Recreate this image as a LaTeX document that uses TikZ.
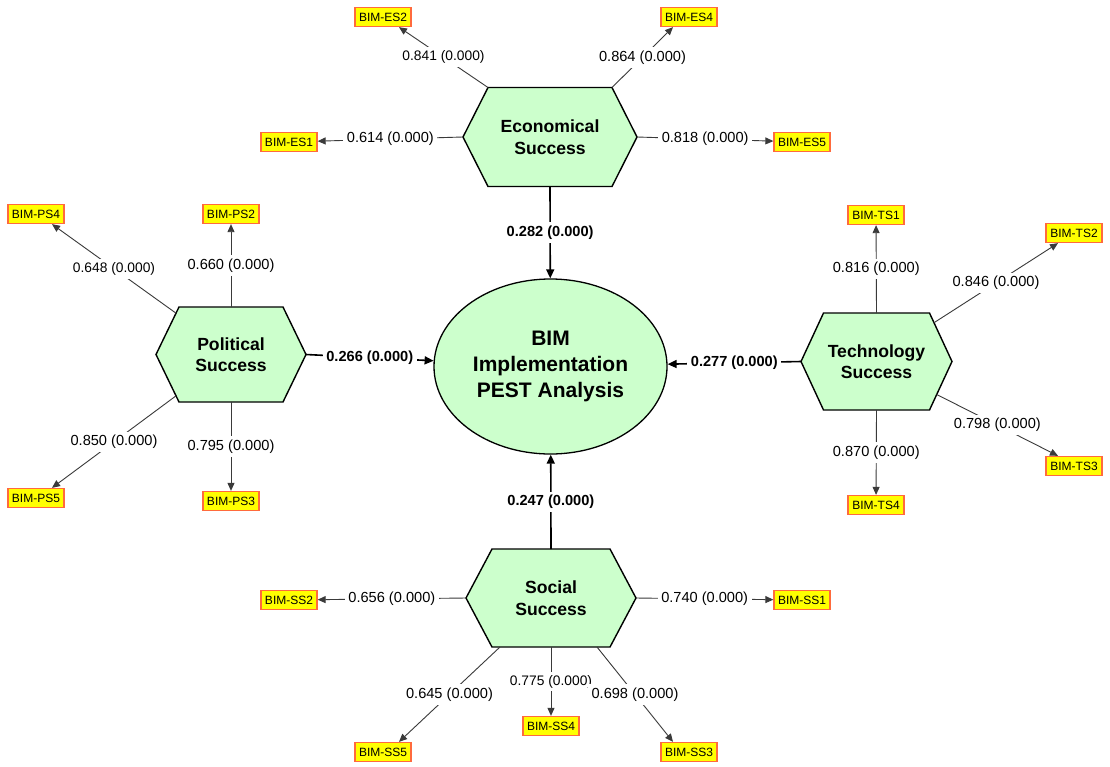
\documentclass[tikz,border=0pt]{standalone}
\usepackage{fontspec}
\setmainfont{Liberation Sans}
\usetikzlibrary{shapes.geometric,arrows.meta,calc}

\definecolor{hexgreen}{HTML}{CCFFCC}
\definecolor{itemyellow}{HTML}{FFFF00}
\definecolor{itemedge}{HTML}{FF6A3D}
\definecolor{loadgray}{HTML}{3A3A3A}

% Hexagonal construct: #1 name, #2/#3 centre, #4 half width to the side points,
% #5 half length of the flat top/bottom edges, #6 half height, #7 caption
\newcommand\hexconstruct[7]{%
  \draw[hexshape]
    (#2-#4,#3) coordinate (#1-W)
    -- (#2-#5,#3-#6) coordinate (#1-NW)
    -- (#2+#5,#3-#6) coordinate (#1-NE)
    -- (#2+#4,#3) coordinate (#1-E)
    -- (#2+#5,#3+#6) coordinate (#1-SE)
    -- (#2-#5,#3+#6) coordinate (#1-SW)
    -- cycle;
  \coordinate (#1-N) at (#2,#3-#6);
  \coordinate (#1-S) at (#2,#3+#6);
  \node[hextext] (#1) at (#2,#3) {#7};
}

\tikzset{
  hexshape/.style={draw=black, line width=1.4pt, fill=hexgreen, line join=miter},
  hextext/.style={align=center, inner sep=0pt,
    font=\fontsize{17.6}{21.5}\selectfont\bfseries},
  latent/.style={ellipse, draw=black, line width=1.3pt, fill=hexgreen,
    minimum width=233pt, minimum height=175pt, inner sep=0pt, align=center,
    font=\fontsize{21}{26}\selectfont\bfseries},
  indicator/.style={draw=itemedge, fill=itemyellow, line width=1.3pt,
    minimum width=56pt, minimum height=19pt, inner sep=1pt,
    font=\fontsize{12}{13}\selectfont},
  loading/.style={draw=loadgray, line width=0.9pt,
    -{Triangle[length=8pt,width=7pt]}},
  structural/.style={draw=black, line width=1.6pt,
    -{Triangle[length=9pt,width=8pt]}},
  lbl/.style={fill=white, inner sep=3.5pt, text=black,
    font=\fontsize{14.6}{16}\selectfont},
  lblsm/.style={lbl, font=\fontsize{13.8}{15}\selectfont},
  plbl/.style={fill=white, inner sep=3.5pt,
    font=\fontsize{14.6}{16}\selectfont\bfseries},
}

\begin{document}
\begin{tikzpicture}[x=1pt,y=-1pt]
  \fill[white] (0,0) rectangle (1110,766);
  \path[use as bounding box] (0,0) rectangle (1110,766);

  % central construct
  \node[latent] (BIM) at (550.5,366.5) {BIM\\Implementation\\PEST Analysis};

  % PEST constructs
  \hexconstruct{ES}{550}{137}{87}{62}{49.5}{Economical\\Success}
  \hexconstruct{PS}{231}{354.5}{75}{52}{47.5}{Political\\Success}
  \hexconstruct{TS}{876.5}{361.5}{75.5}{53}{48.5}{Technology\\Success}
  \hexconstruct{SS}{551}{598}{85}{59}{49}{Social\\Success}

  % indicators
  \node[indicator] (ES2) at (383,17)  {BIM-ES2};
  \node[indicator] (ES4) at (689,17)  {BIM-ES4};
  \node[indicator] (ES1) at (289,142) {BIM-ES1};
  \node[indicator] (ES5) at (802,142) {BIM-ES5};

  \node[indicator] (PS4) at (36,214)  {BIM-PS4};
  \node[indicator] (PS2) at (231,214) {BIM-PS2};
  \node[indicator] (PS5) at (36,498)  {BIM-PS5};
  \node[indicator] (PS3) at (231,501) {BIM-PS3};

  \node[indicator] (TS1) at (876,215)  {BIM-TS1};
  \node[indicator] (TS2) at (1074,233) {BIM-TS2};
  \node[indicator] (TS3) at (1074,466) {BIM-TS3};
  \node[indicator] (TS4) at (876,505)  {BIM-TS4};

  \node[indicator] (SS2) at (289,600) {BIM-SS2};
  \node[indicator] (SS1) at (802,600) {BIM-SS1};
  \node[indicator] (SS5) at (383,752) {BIM-SS5};
  \node[indicator] (SS4) at (551,726) {BIM-SS4};
  \node[indicator] (SS3) at (689,752) {BIM-SS3};

  % outer loadings: Economical
  \draw[loading] (ES-NW) -- node[lblsm] {0.841 (0.000)} ($(ES2.south)+(16,0)$);
  \draw[loading] (ES-NE) -- node[lbl] {0.864 (0.000)} ($(ES4.south)+(-16,0)$);
  \draw[loading] (ES-W) -- node[lbl] {0.614 (0.000)} (ES1);
  \draw[loading] (ES-E) -- node[lbl] {0.818 (0.000)} (ES5);

  % outer loadings: Political
  \coordinate (PS-a) at ($(PS-NW)!0.13!(PS-W)$);
  \coordinate (PS-b) at ($(PS-SW)!0.13!(PS-W)$);
  \draw[loading] (PS-a) -- node[lblsm] {0.648 (0.000)} ($(PS4.south)+(16,0)$);
  \draw[loading] (PS-N) -- node[lbl] {0.660 (0.000)} (PS2);
  \draw[loading] (PS-b) -- node[lbl] {0.850 (0.000)} ($(PS5.north)+(16,0)$);
  \draw[loading] (PS-S) -- node[lbl] {0.795 (0.000)} (PS3);

  % outer loadings: Technology
  \coordinate (TS-a) at ($(TS-NE)!0.2!(TS-E)$);
  \coordinate (TS-b) at ($(TS-SE)!0.32!(TS-E)$);
  \draw[loading] (TS-N) -- node[lbl] {0.816 (0.000)} (TS1);
  \draw[loading] (TS-a) -- node[lbl] {0.846 (0.000)} ($(TS2.south)+(-16,0)$);
  \draw[loading] (TS-b) -- node[lbl] {0.798 (0.000)} ($(TS3.north)+(-16,0)$);
  \draw[loading] (TS-S) -- node[lbl] {0.870 (0.000)} (TS4);

  % outer loadings: Social
  \coordinate (SS-a) at ($(SS-S)+(-51,0)$);
  \coordinate (SS-b) at ($(SS-S)+(46,0)$);
  \draw[loading] (SS-W) -- node[lbl] {0.656 (0.000)} (SS2);
  \draw[loading] (SS-E) -- node[lbl] {0.740 (0.000)} (SS1);
  \draw[loading] (SS-a) -- node[lbl] {0.645 (0.000)} ($(SS5.north)+(16,0)$);
  \draw[loading] (SS-S) -- node[lblsm] {0.775 (0.000)} (SS4);
  \draw[loading] (SS-b) -- node[lbl] {0.698 (0.000)} ($(SS3.north)+(-16,0)$);

  % structural paths
  \draw[structural] (ES-S) -- node[plbl] {0.282 (0.000)} (BIM);
  \draw[structural] (PS-E) -- node[plbl] {0.266 (0.000)} (BIM);
  \draw[structural] (TS-W) -- node[plbl] {0.277 (0.000)} (BIM);
  \draw[structural] (SS-N) -- node[plbl] {0.247 (0.000)} (BIM);
\end{tikzpicture}
\end{document}
